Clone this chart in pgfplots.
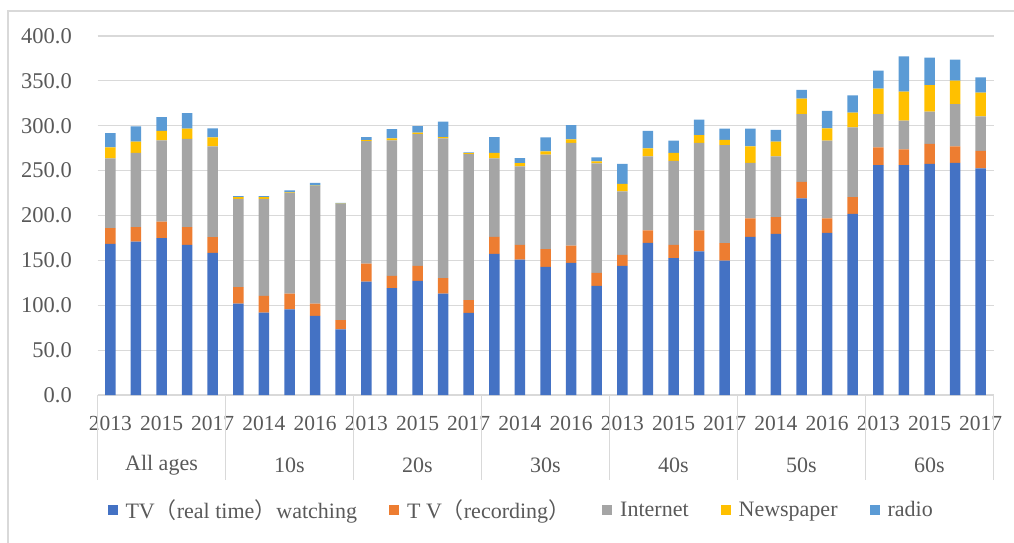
\documentclass[border=0pt]{standalone}
\usepackage{pgfplots}
\usepackage{pgfplotstable}
\pgfplotsset{compat=1.18}
\usepackage{fontspec}
\setmainfont{Liberation Serif}
\newfontfamily\cjk{Noto Sans CJK JP}
\definecolor{cTV}{HTML}{4472C4}
\definecolor{cRec}{HTML}{ED7D31}
\definecolor{cNet}{HTML}{A5A5A5}
\definecolor{cNews}{HTML}{FFC000}
\definecolor{cRad}{HTML}{5B9BD5}
\definecolor{gridc}{HTML}{D9D9D9}
\definecolor{txt}{HTML}{595959}
\pgfplotstableread{
x tv rec net news radio
0 168.4 17.5 77.7 12.2 16.0
1 171.0 16.0 82.9 12.3 17.1
2 174.7 18.6 90.3 10.8 15.3
3 167.3 19.7 98.5 11.2 17.4
4 158.4 17.4 101.2 10.0 10.0
5 101.9 18.2 98.5 1.8 1.2
6 91.8 18.6 108.2 1.8 1.2
7 95.5 17.5 112.3 0.5 2.1
8 88.1 13.8 130.8 0.5 3.2
9 73.2 10.1 129.7 0.3 0.8
10 126.4 20.1 136.4 1.1 3.4
11 119.0 13.7 150.9 2.3 10.4
12 127.1 16.8 146.8 1.5 7.4
13 113.0 17.1 155.8 1.5 17.1
14 91.4 14.2 162.8 1.1 0.8
15 157.2 19.0 87.4 6.3 17.5
16 150.9 16.4 87.3 3.8 5.5
17 142.8 19.7 105.2 3.7 15.6
18 147.2 19.3 114.5 3.8 15.9
19 121.6 14.5 121.9 2.2 4.5
20 143.9 12.2 70.7 8.5 22.3
21 169.5 13.8 82.5 8.9 19.7
22 152.4 14.9 93.7 8.9 13.4
23 159.9 23.4 97.7 8.6 17.1
24 149.8 19.3 109.3 6.0 12.3
25 176.2 20.5 62.0 18.3 19.7
26 179.6 18.5 67.7 16.4 13.3
27 219.0 18.5 75.5 17.1 10.0
28 180.7 16.0 86.6 13.7 19.7
29 201.9 18.5 77.7 16.4 19.3
30 256.1 19.7 37.2 28.3 20.0
31 256.1 17.5 32.0 32.3 39.4
32 257.6 22.3 35.7 29.8 30.4
33 258.7 18.3 47.2 26.0 23.4
34 252.4 19.7 38.3 26.4 17.1
}\datatable
\begin{document}
\begin{tikzpicture}[x=1pt,y=1pt]
\useasboundingbox (0,0) rectangle (1014,543);
\draw[gridc, line width=1.2pt] (8,0) -- (8,532) -- (1014,532);
\begin{axis}[
  at={(97.5pt,148pt)}, anchor=south west,
  scale only axis, width=896pt, height=359pt,
  xmin=-0.5, xmax=34.5, ymin=0, ymax=400,
  ybar stacked, bar width=10.5pt,
  axis lines=left, axis line style={draw=none},
  tick style={draw=none},
  ytick={0,50,...,400},
  ymajorgrids, major grid style={gridc, line width=1.2pt},
  xtick={0,2,...,34},
  xticklabels={2013,2015,2017,2014,2016,2013,2015,2017,2014,2016,2013,2015,2017,2014,2016,2013,2015,2017},
  ticklabel style={font=\fontsize{21.5}{25}\selectfont, text=txt},
  yticklabel style={/pgf/number format/fixed, /pgf/number format/fixed zerofill, /pgf/number format/precision=1, /pgf/number format/assume math mode=true},
  yticklabel style={xshift=-20pt, font=\fontsize{22.5}{25}\selectfont},
  xticklabel style={yshift=-16pt},
  clip=false,
  legend style={at={(0.011,-0.32)}, anchor=west, draw=none, fill=none,
    legend columns=5, font=\fontsize{22}{25}\selectfont, text=txt,
    /tikz/every odd column/.append style={column sep=6pt},
    /tikz/every even column/.append style={column sep=30pt},
    inner sep=0pt},
  legend image code/.code={\fill[#1] (0pt,-5pt) rectangle (10pt,5pt);},
]
\addplot[fill=cTV, draw=none] table[x=x,y=tv]{\datatable};
\addplot[fill=cRec, draw=none] table[x=x,y=rec]{\datatable};
\addplot[fill=cNet, draw=none] table[x=x,y=net]{\datatable};
\addplot[fill=cNews, draw=none] table[x=x,y=news]{\datatable};
\addplot[fill=cRad, draw=none] table[x=x,y=radio]{\datatable};
\legend{TV{\cjk （}real time{\cjk ）}watching, T V{\cjk （}recording{\cjk ）}, Internet, Newspaper, radio}
\foreach \g in {-0.5,4.5,9.5,14.5,19.5,24.5,29.5,34.5}{
  \edef\tmp{\noexpand\draw[gridc, line width=1.2pt] (axis cs:\g,0) -- ([yshift=-85pt]axis cs:\g,0);}\tmp
}
\foreach \c/\n in {2/All ages,7/10s,12/20s,17/30s,22/40s,27/50s,32/60s}{
  \edef\tmp{\noexpand\node[text=txt, font=\noexpand\fontsize{22}{25}\noexpand\selectfont] at (axis cs:\c,0) [yshift=-70pt] {\n};}\tmp
}
\end{axis}
\end{tikzpicture}
\end{document}
